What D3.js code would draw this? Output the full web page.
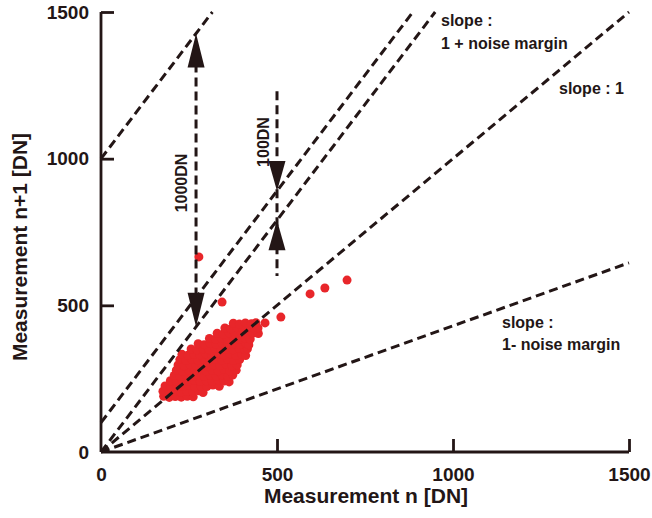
<!DOCTYPE html>
<html>
<head>
<meta charset="utf-8">
<script src="https://cdn.jsdelivr.net/npm/d3@7"></script>
<style>
  html, body { margin: 0; padding: 0; background: #ffffff; }
  svg { display: block; }
  text { font-family: "Liberation Sans", Arial, sans-serif; fill: #231616; }
</style>
</head>
<body>
<div id="chart"></div>
<script>
// ---------------- data ----------------
const xTicks = [0, 500, 1000, 1500];
const yTicks = [0, 500, 1000, 1500];
const xTitle = "Measurement n [DN]";
const yTitle = "Measurement n+1 [DN]";

// reference lines: y = intercept + slope * x
const lineIntercepts = [1000, 100, 0, 0, 0];
const lineSlopes     = [1.58, 1.58, 1.58, 1.0, 0.43];

// annotation values
const bigArrowX = 270;     // 1000DN arrow position (DN)
const bigArrowGap = 1000;
const smallArrowX = 500;   // 100DN arrow position (DN)
const smallArrowGap = 100;
const smallArrowSpan = [600, 1230];

// measured points [n, n+1]
const clusterPoints = [
  [178,190],[194,186],[211,189],[228,187],[245,190],[262,188],
  [176,207],[193,205],[210,208],[227,204],[244,207],[261,205],[278,209],[290,203],
  [182,225],[199,222],[216,226],[233,223],[250,227],[267,222],[284,225],[301,223],[318,228],[336,224],
  [197,243],[214,240],[231,244],[248,241],[265,245],[282,240],[299,243],[316,241],[333,246],[350,242],[364,239],
  [208,261],[225,258],[242,262],[259,259],[276,263],[293,258],[310,261],[327,259],[344,263],[361,258],[374,262],
  [214,279],[231,276],[248,280],[265,277],[282,281],[299,276],[316,279],[333,277],[350,281],[367,276],[384,279],
  [219,297],[236,294],[253,298],[270,295],[287,299],[304,294],[321,297],[338,295],[355,299],[372,294],[387,297],
  [224,315],[241,312],[258,316],[275,313],[292,317],[309,312],[326,315],[343,313],[360,317],[377,312],[394,315],
  [230,333],[247,330],[264,334],[281,331],[298,335],[315,330],[332,333],[349,331],[366,335],[383,330],[400,333],[411,329],
  [256,351],[273,348],[290,352],[307,349],[324,353],[341,348],[358,351],[375,349],[392,353],[409,348],[416,352],
  [276,369],[293,366],[310,370],[327,367],[344,371],[361,366],[378,369],[395,367],[412,371],[420,365],
  [308,387],[325,384],[342,388],[359,385],[376,389],[393,384],[410,387],[424,385],
  [330,405],[347,402],[364,406],[381,403],[398,407],[415,402],[432,405],[447,404],
  [352,423],[369,420],[386,424],[403,421],[420,425],[437,420],[446,423],
  [376,439],[393,436],[410,440],[427,437],[440,441]
];
const outlierPoints = [
  [278,665],[344,511],[466,440],[511,460],[594,539],[636,559],[699,586]
];

// ---------------- drawing ----------------
const W = 652, H = 518;
const ink = "#231616";
const red = "#e8262a";

const svg = d3.select("#chart").append("svg")
  .attr("width", W).attr("height", H);

const x = d3.scaleLinear().domain([0, 1500]).range([101, 629]);
const y = d3.scaleLinear().domain([0, 1500]).range([452, 12]);

// points
const pts = clusterPoints.concat(outlierPoints);
svg.append("g").selectAll("circle").data(pts).join("circle")
  .attr("cx", d => x(d[0])).attr("cy", d => y(d[1]))
  .attr("r", 4.5).attr("fill", red);

// reference dashed lines
const lineG = svg.append("g");
lineIntercepts.forEach((b, i) => {
  const m = lineSlopes[i];
  const xEnd = Math.min(1500, (1500 - b) / m);
  lineG.append("line")
    .attr("x1", x(0)).attr("y1", y(b))
    .attr("x2", x(xEnd)).attr("y2", y(b + m * xEnd))
    .attr("stroke", ink).attr("stroke-width", 3)
    .attr("stroke-dasharray", "9,5");
});

// axes
const xAxis = d3.axisBottom(x).tickValues(xTicks).tickSize(-13).tickPadding(16).tickFormat(d3.format("d"));
const yAxis = d3.axisLeft(y).tickValues(yTicks).tickSize(-13).tickPadding(12).tickFormat(d3.format("d"));

const gx = svg.append("g").attr("transform", `translate(0,${y(0)})`).call(xAxis);
const gy = svg.append("g").attr("transform", `translate(${x(0)},0)`).call(yAxis);
[gx, gy].forEach(g => {
  g.select(".domain").attr("stroke", ink).attr("stroke-width", 2.8).attr("d",
    g === gx ? `M${x(0)},0H${x(1500)}` : `M0,${y(0)}V${y(1500)}`);
  g.selectAll(".tick line").attr("stroke", ink).attr("stroke-width", 2.8);
  g.selectAll(".tick text").attr("fill", ink)
    .style("font-size", "19px").style("font-weight", "bold")
    .style("font-family", "'Liberation Sans', Arial, sans-serif");
});
gx.selectAll(".tick").filter(d => d === 0).select("line").remove();
gy.selectAll(".tick").filter(d => d === 0).select("line").remove();

// axis titles
svg.append("text").attr("x", 366).attr("y", 503)
  .attr("text-anchor", "middle").style("font-size", "21px").style("font-weight", "bold")
  .text(xTitle);
svg.append("text").attr("transform", "translate(27,247) rotate(-90)")
  .attr("text-anchor", "middle").style("font-size", "21px").style("font-weight", "bold")
  .text(yTitle);

// arrows
function arrowHead(g, px, tipY, dir, len, half) {
  // dir = -1 pointing up, +1 pointing down
  const baseY = tipY - dir * len;
  g.append("path")
    .attr("d", `M${px},${tipY} L${px - half},${baseY} L${px + half},${baseY} Z`)
    .attr("fill", ink);
}
const arrG = svg.append("g");
const lowBig = lineSlopes[2] * bigArrowX;
const highBig = lowBig + bigArrowGap;
arrG.append("line")
  .attr("x1", x(bigArrowX)).attr("x2", x(bigArrowX))
  .attr("y1", y(highBig) + 30).attr("y2", y(lowBig) - 30)
  .attr("stroke", ink).attr("stroke-width", 3).attr("stroke-dasharray", "9,5");
arrowHead(arrG, x(bigArrowX), y(highBig), -1, 34, 8.5);
arrowHead(arrG, x(bigArrowX), y(lowBig), 1, 34, 8.5);

const lowSmall = lineSlopes[2] * smallArrowX;
const highSmall = lowSmall + smallArrowGap;
arrG.append("line")
  .attr("x1", x(smallArrowX)).attr("x2", x(smallArrowX))
  .attr("y1", y(smallArrowSpan[1])).attr("y2", y(smallArrowSpan[0]))
  .attr("stroke", ink).attr("stroke-width", 3).attr("stroke-dasharray", "9,5");
arrowHead(arrG, x(smallArrowX), y(highSmall), 1, 30, 8.5);
arrowHead(arrG, x(smallArrowX), y(lowSmall), -1, 30, 8.5);

// annotation labels
const annot = svg.append("g").style("font-weight", "bold").style("font-size", "16px");
annot.append("text").attr("transform", "translate(187,183) rotate(-90)")
  .attr("text-anchor", "middle").style("font-size", "16px").text("1000DN");
annot.append("text").attr("transform", "translate(269,142) rotate(-90)")
  .attr("text-anchor", "middle").style("font-size", "16px").text("100DN");
annot.append("text").attr("x", 441).attr("y", 26).text("slope :");
annot.append("text").attr("x", 441).attr("y", 49).text("1 + noise margin");
annot.append("text").attr("x", 559).attr("y", 94).text("slope : 1");
annot.append("text").attr("x", 502).attr("y", 328).text("slope :");
annot.append("text").attr("x", 502).attr("y", 350).text("1- noise margin");
</script>
</body>
</html>
